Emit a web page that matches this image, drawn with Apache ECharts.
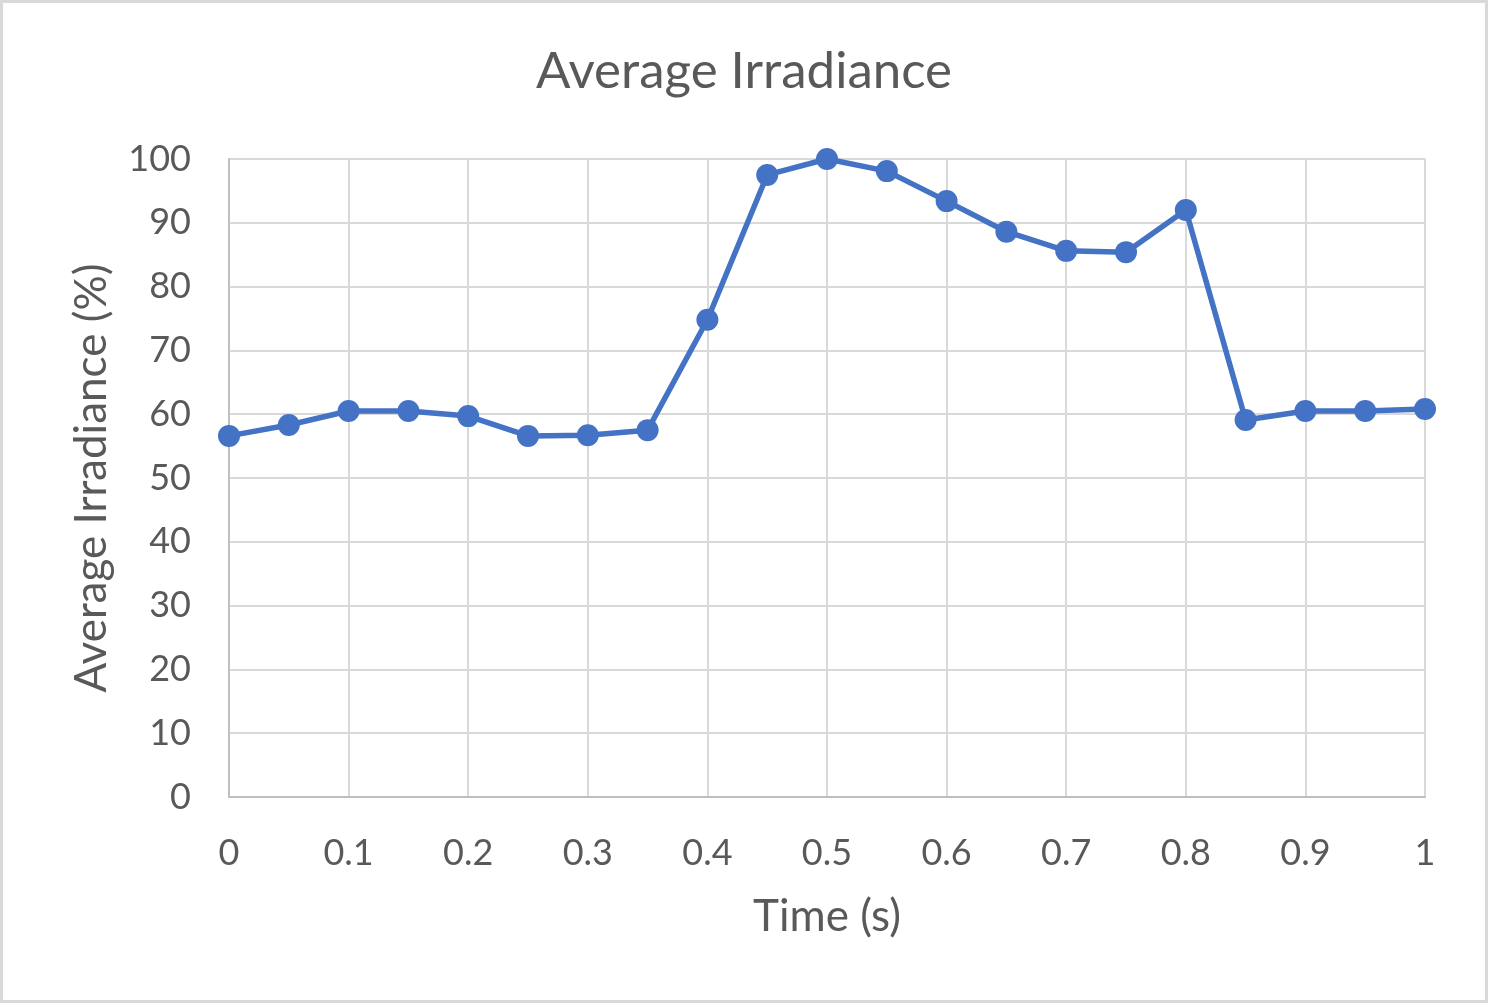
<!DOCTYPE html>
<html>
<head>
<meta charset="utf-8">
<script src="https://cdn.jsdelivr.net/npm/echarts@6/dist/echarts.min.js"></script>
<style>
  html, body { margin: 0; padding: 0; background: #fff; }
  #chart {
    width: 1482px;
    height: 997px;
    border: 3px solid #d9d9d9;
  }
</style>
</head>
<body>
<div id="chart"></div>
<script>
// time (s)
var times = [0, 0.05, 0.1, 0.15, 0.2, 0.25, 0.3, 0.35, 0.4, 0.45, 0.5,
  0.55, 0.6, 0.65, 0.7, 0.75, 0.8, 0.85, 0.9, 0.95, 1]
// average irradiance (%)
var irradiance = [56.6, 58.3, 60.5, 60.5, 59.7, 56.6, 56.7, 57.5, 74.8, 97.5, 100,
  98.1, 93.4, 88.6, 85.6, 85.4, 92.0, 59.1, 60.5, 60.5, 60.8]

var points = times.map(function (t, i) { return [t, irradiance[i]] })

var chartDom = document.getElementById('chart')
var myChart = echarts.init(chartDom)
var font = 'Lato, "Liberation Sans", sans-serif'
var option

option = {
  animation: false,
  title: {
    text: 'Average Irradiance',
    left: 'center',
    top: 38,
    textStyle: {
      fontFamily: font,
      fontSize: 51,
      fontWeight: 'normal',
      color: '#595959'
    }
  },
  grid: {
    left: 226,
    right: 60,
    top: 156,
    bottom: 203
  },
  xAxis: {
    type: 'value',
    min: 0,
    max: 1,
    interval: 0.1,
    name: 'Time (s)',
    nameLocation: 'middle',
    nameGap: 98,
    nameTextStyle: { fontFamily: font, fontSize: 44, color: '#595959' },
    axisLine: { show: true, lineStyle: { color: '#bfbfbf', width: 2 } },
    axisTick: { show: false },
    axisLabel: {
      fontFamily: font,
      fontSize: 36,
      color: '#595959',
      margin: 38,
      formatter: function (v) { return String(+v.toFixed(1)) }
    },
    splitLine: { show: true, lineStyle: { color: '#d9d9d9', width: 2 } }
  },
  yAxis: {
    type: 'value',
    min: 0,
    max: 100,
    interval: 10,
    name: 'Average Irradiance (%)',
    nameLocation: 'middle',
    nameGap: 115,
    nameTextStyle: { fontFamily: font, fontSize: 44, color: '#595959' },
    axisLine: { show: true, lineStyle: { color: '#bfbfbf', width: 2 } },
    axisTick: { show: false },
    axisLabel: {
      fontFamily: font,
      fontSize: 36,
      color: '#595959',
      margin: 38
    },
    splitLine: { show: true, lineStyle: { color: '#d9d9d9', width: 2 } }
  },
  series: [
    {
      type: 'line',
      data: points,
      symbol: 'circle',
      symbolSize: 22,
      lineStyle: { color: '#4472c4', width: 5.5 },
      itemStyle: { color: '#4472c4' }
    }
  ]
}

option && myChart.setOption(option)
</script>
</body>
</html>
